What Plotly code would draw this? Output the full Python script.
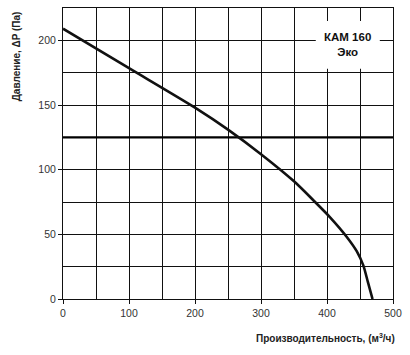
import plotly.graph_objects as go

flow = [0, 100, 200, 250, 300, 350, 380, 405, 430, 445, 455, 462, 469]
pressure = [209, 178.5, 148, 131, 112, 91, 76, 63, 48, 37, 26, 13, 0]
ref_level = 125
x_ticks = [0, 100, 200, 300, 400, 500]
y_ticks = [0, 50, 100, 150, 200]

fig = go.Figure()
fig.add_trace(go.Scatter(x=[0, 500], y=[ref_level, ref_level], mode="lines",
                         line=dict(color="black", width=2.2), hoverinfo="skip"))
fig.add_trace(go.Scatter(x=flow, y=pressure, mode="lines",
                         line=dict(color="#111", width=2.6, shape="spline", smoothing=0.7)))

fig.add_shape(type="rect", xref="x", yref="y", x0=383, x1=480, y0=178, y1=215,
              fillcolor="white", line=dict(width=0), layer="between")
fig.add_annotation(x=431, y=196.5, xref="x", yref="y", showarrow=False,
                   text="<b>КАМ 160</b><br><b>Эко</b>",
                   font=dict(family="Liberation Sans, Arial", size=11.5, color="#111"),
                   align="center")

fig.add_annotation(x=-0.14, y=0.995, xref="paper", yref="paper", showarrow=False,
                   text="<b>Давление, ΔP (Па)</b>", textangle=-90,
                   xanchor="center", yanchor="top",
                   font=dict(family="Liberation Sans, Arial", size=10, color="#222"))
fig.add_annotation(x=1.012, y=-0.134, xref="paper", yref="paper", showarrow=False,
                   text="<b>Производительность, (м<sup>3</sup>/ч)</b>",
                   xanchor="right", yanchor="middle",
                   font=dict(family="Liberation Sans, Arial", size=10, color="#222"))

fig.update_layout(
    width=410, height=355,
    margin=dict(l=63, r=17, t=8, b=56),
    paper_bgcolor="white", plot_bgcolor="white",
    showlegend=False,
    font=dict(family="Liberation Sans, Arial", size=10.5, color="#333"),
)
fig.update_xaxes(range=[0, 500], tickvals=x_ticks,
                 showgrid=True, gridcolor="#111", gridwidth=1,
                 minor=dict(dtick=50, showgrid=True, gridcolor="#111", gridwidth=1),
                 ticks="outside", ticklen=4, tickcolor="#111",
                 showline=True, linecolor="#111", linewidth=1, mirror=True,
                 zeroline=False)
fig.update_yaxes(range=[0, 225], tickvals=y_ticks,
                 showgrid=True, gridcolor="#111", gridwidth=1,
                 minor=dict(dtick=25, showgrid=True, gridcolor="#111", gridwidth=1),
                 ticks="outside", ticklen=4, tickcolor="#111",
                 showline=True, linecolor="#111", linewidth=1, mirror=True,
                 zeroline=False)

fig.write_html("out.html")
